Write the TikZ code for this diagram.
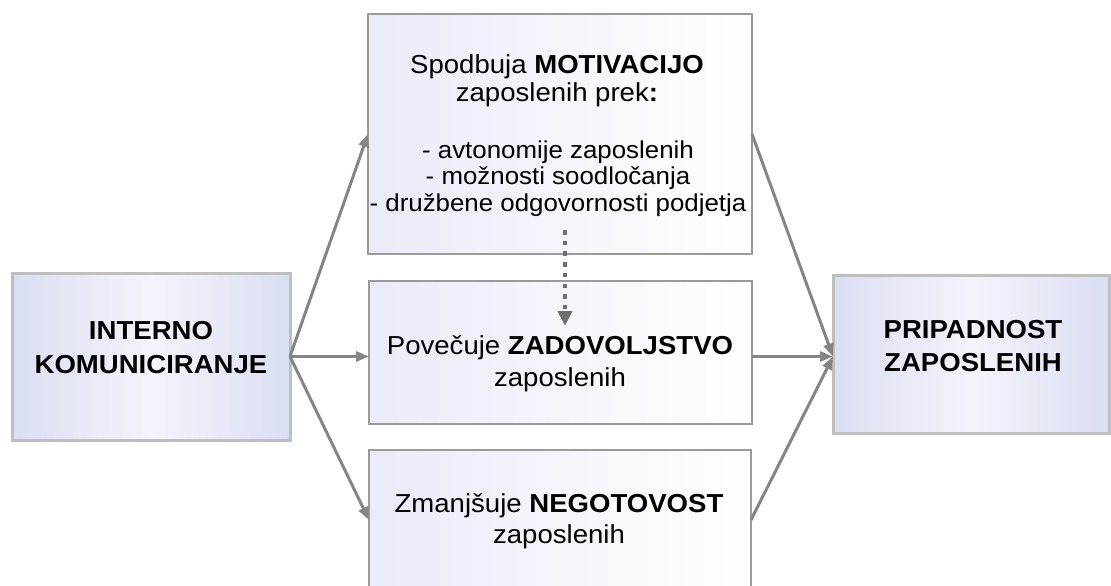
\documentclass[tikz,border=0pt]{standalone}
\usepackage{fontspec}
\setmainfont{Liberation Sans}[FakeStretch=1.06]
\usetikzlibrary{arrows.meta}
\definecolor{edgegray}{HTML}{BFBFBF}
\definecolor{boxgray}{HTML}{9A9A9A}
\definecolor{arrowgray}{HTML}{858585}
\definecolor{dotgray}{HTML}{6F6F6F}
\definecolor{lavEdge}{HTML}{DADEF2}
\definecolor{lavMid}{HTML}{F4F4FB}
\definecolor{lavLeft}{HTML}{EBEBF9}
\begin{document}
\begin{tikzpicture}[x=1pt,y=-1pt,
  endbox/.style={draw=edgegray, line width=3pt, left color=lavEdge, right color=lavEdge, middle color=lavMid, inner sep=0pt, outer sep=0pt},
  midbox/.style={draw=boxgray, line width=2pt, left color=lavLeft, right color=white, inner sep=0pt, outer sep=0pt},
  txt/.style={anchor=base, inner sep=0pt, font=\fontsize{26}{31}\selectfont},
  listtxt/.style={anchor=base, inner sep=0pt, font=\fontsize{24.4}{29}\selectfont},
  lbl/.style={anchor=base, inner sep=0pt, font=\fontsize{26}{31}\selectfont\bfseries},
  conn/.style={draw=arrowgray, line width=3pt, -{Triangle[length=13pt,width=10pt]}},
  dotconn/.style={draw=dotgray, line width=4.5pt, dash pattern=on 4.5pt off 6.2pt, -{Triangle[length=15pt,width=14pt]}}
]
\useasboundingbox (0,0) rectangle (1111,586);
\clip (0,0) rectangle (1111,586);

% boxes
\node[endbox, minimum width=278pt, minimum height=167pt] (L) at (151,356.5) {};
\node[endbox, minimum width=276pt, minimum height=158pt] (R) at (971,354) {};
\node[midbox, minimum width=384pt, minimum height=240pt] (T) at (560,134) {};
\node[midbox, minimum width=383pt, minimum height=143pt] (M) at (560.5,352.5) {};
\node[midbox, minimum width=382pt, minimum height=140pt] (B) at (560,520) {};

% texts
\node[lbl] (L1) at (151,339) {INTERNO};
\node[lbl] (L2) at (151,373) {KOMUNICIRANJE};
\node[lbl] (R1) at (973,338) {PRIPADNOST};
\node[lbl] (R2) at (973,371) {ZAPOSLENIH};

\node[txt] (T1) at (557,74) {Spodbuja \textbf{MOTIVACIJO}};
\node[txt] (T2) at (557,101) {zaposlenih prek\textbf{:}};
\node[listtxt] (T3) at (558,158) {- avtonomije zaposlenih};
\node[listtxt] (T4) at (558,184.5) {- možnosti soodločanja};
\node[listtxt] (T5) at (558,211) {- družbene odgovornosti podjetja};

\node[txt] (M1) at (560,354) {Povečuje \textbf{ZADOVOLJSTVO}};
\node[txt] (M2) at (560,386) {zaposlenih};

\node[txt] (B1) at (559,512) {Zmanjšuje \textbf{NEGOTOVOST}};
\node[txt] (B2) at (559,543) {zaposlenih};

% connectors
\draw[conn] (L.east) -- (T.west);
\draw[conn] (L.east) -- (L.east -| M.west);
\draw[conn] (L.east) -- (B.west);
\draw[conn] (T.east) -- (R.west |- L.east);
\draw[conn] (M.east |- L.east) -- (R.west |- L.east);
\draw[conn] (B.east) -- (R.west |- L.east);

\coordinate (dotS) at (565,230);
\coordinate (dotE) at (565,326);
\draw[dotconn] (dotS) -- (dotE);
\end{tikzpicture}
\end{document}
